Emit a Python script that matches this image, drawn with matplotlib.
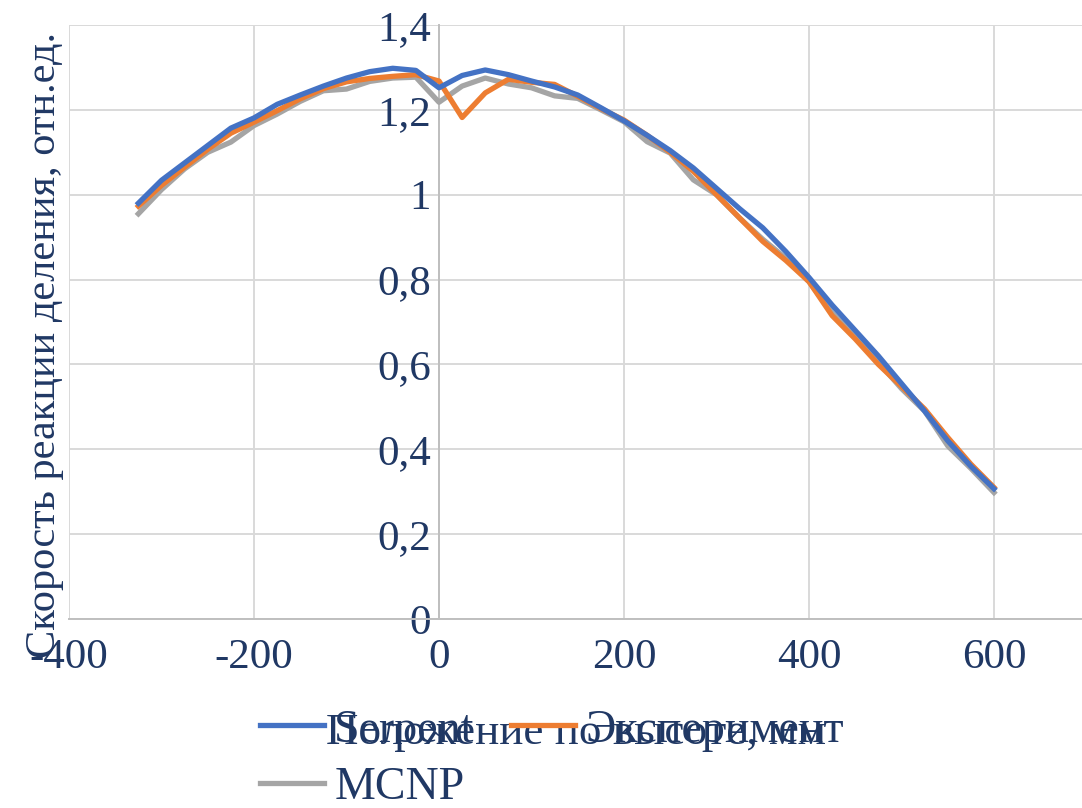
import matplotlib
matplotlib.use("Agg")
import matplotlib.pyplot as plt

# ---- data ----
x_mm = [-325, -300, -275, -250, -225, -200, -175, -150, -125, -100, -75, -50, -25,
        0, 25, 50, 75, 100, 125, 150, 175, 200, 225, 250, 275, 300, 325, 350,
        375, 400, 425, 450, 475, 500, 525, 550, 575, 600]

serpent = [0.980, 1.034, 1.075, 1.116, 1.157, 1.181, 1.213, 1.235, 1.256, 1.275, 1.290, 1.298, 1.293,
           1.252, 1.281, 1.294, 1.283, 1.268, 1.254, 1.235, 1.205, 1.174, 1.140, 1.104, 1.063, 1.015,
           0.967, 0.922, 0.866, 0.805, 0.740, 0.680, 0.620, 0.555, 0.490, 0.420, 0.360, 0.307]

experiment = [0.973, 1.022, 1.065, 1.107, 1.145, 1.171, 1.198, 1.226, 1.250, 1.266, 1.274, 1.279, 1.283,
              1.268, 1.182, 1.240, 1.272, 1.265, 1.260, 1.232, 1.203, 1.176, 1.140, 1.100, 1.055, 1.000,
              0.945, 0.890, 0.845, 0.795, 0.715, 0.660, 0.600, 0.548, 0.495, 0.428, 0.365, 0.310]

mcnp = [0.955, 1.012, 1.061, 1.100, 1.124, 1.163, 1.190, 1.220, 1.245, 1.249, 1.267, 1.275, 1.277,
        1.218, 1.256, 1.275, 1.261, 1.252, 1.233, 1.227, 1.200, 1.172, 1.125, 1.098, 1.035, 1.000,
        0.945, 0.895, 0.850, 0.795, 0.722, 0.665, 0.605, 0.543, 0.490, 0.408, 0.355, 0.298]

series_names = ["Serpent", "Эксперимент", "MCNP"]
x_ticks = [-400, -200, 0, 200, 400, 600]
x_tick_labels = ["-400", "-200", "0", "200", "400", "600"]
y_ticks = [0, 0.2, 0.4, 0.6, 0.8, 1.0, 1.2, 1.4]
y_tick_labels = ["0", "0,2", "0,4", "0,6", "0,8", "1", "1,2", "1,4"]
x_label = "Положение по высоте, мм"
y_label = "Скорость реакции деления, отн.ед."

# ---- style ----
plt.rcParams['font.family'] = ['Liberation Serif', 'DejaVu Serif']
txt_color = '#203864'
c_blue, c_orange, c_gray = '#4472C4', '#ED7D31', '#A5A5A5'
fs = 31
fs_leg = 33

fig = plt.figure(figsize=(10.82, 8.08), dpi=100)
W, H = 1082, 808
ax = fig.add_axes([69 / W, 1 - 619 / H, (1086.5 - 69) / W, (619 - 25) / H])

l_gray, = ax.plot(x_mm, mcnp, color=c_gray, lw=3.8, zorder=3, solid_joinstyle='round')
l_orange, = ax.plot(x_mm, experiment, color=c_orange, lw=3.8, zorder=4, solid_joinstyle='round')
l_blue, = ax.plot(x_mm, serpent, color=c_blue, lw=3.8, zorder=5, solid_joinstyle='round')

ax.set_xlim(-400, 700)
ax.set_ylim(0, 1.4)
ax.set_xticks(x_ticks)
ax.set_xticklabels(x_tick_labels)
ax.set_yticks(y_ticks)
ax.set_yticklabels(y_tick_labels)
ax.grid(True, color='#D9D9D9', lw=1.4, zorder=0)
ax.set_axisbelow(True)

for s in ['top', 'right']:
    ax.spines[s].set_visible(False)
ax.spines['left'].set_position(('data', 0))
ax.spines['left'].set_color('#BFBFBF')
ax.spines['left'].set_linewidth(1.4)
ax.spines['bottom'].set_color('#BFBFBF')
ax.spines['bottom'].set_linewidth(1.4)
ax.spines['left'].set_zorder(2)

ax.tick_params(axis='both', length=0, labelsize=fs, labelcolor=txt_color)
ax.tick_params(axis='x', pad=14)
ax.tick_params(axis='y', pad=6)

fig.text(45 / W, 1 - 345 / H, y_label, rotation=90, ha='center', va='center',
         fontsize=30.5, color=txt_color)
fig.text(576 / W, 1 - 733 / H, x_label, ha='center', va='center',
         fontsize=32.5, color=txt_color)

# legend: row-major order Serpent, Эксперимент / MCNP (matplotlib fills columns first)
leg = fig.legend([l_blue, l_gray, l_orange],
                 [series_names[0], series_names[2], series_names[1]], ncol=2,
                 loc='upper left', bbox_to_anchor=(260 / W, 1 - 709 / H),
                 frameon=False, fontsize=fs_leg, handlelength=1.4, handletextpad=0.22,
                 columnspacing=0.8, labelspacing=0.32, borderpad=0, borderaxespad=0)
for t in leg.get_texts():
    t.set_color(txt_color)

fig.savefig("out.png", dpi=100)
